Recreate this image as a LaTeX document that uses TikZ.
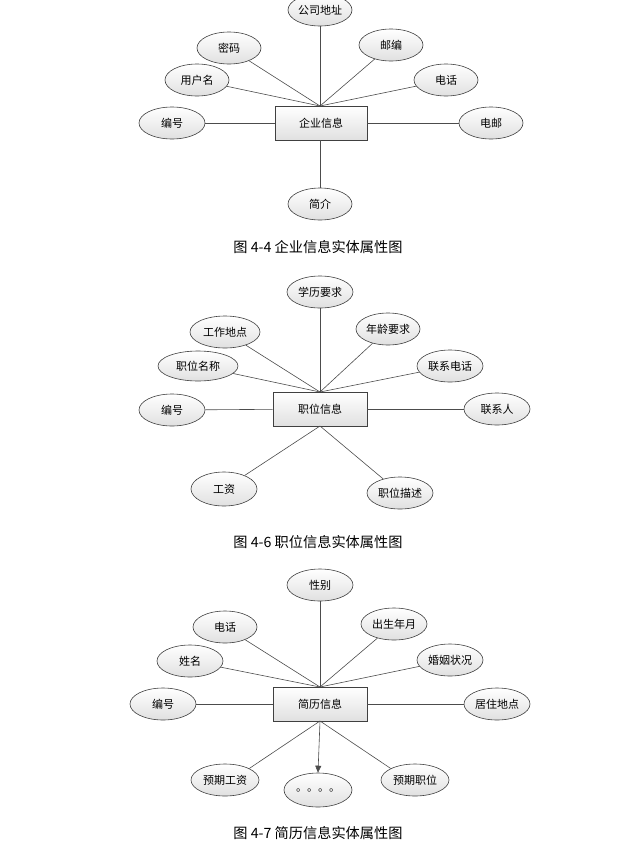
\documentclass[tikz,border=0pt]{standalone}
\usepackage{fontspec}
\setmainfont{Noto Sans CJK SC}
\usetikzlibrary{shapes.geometric,arrows.meta}
\begin{document}
\begin{tikzpicture}[x=1pt,y=-1pt,
  attr/.style={ellipse,draw=black!75,line width=0.6pt,top color=white,bottom color=black!12,minimum width=64pt,minimum height=32pt,inner sep=0pt,font=\fontsize{11}{12}\selectfont},
  ent/.style={rectangle,draw=black!75,line width=0.6pt,top color=white,bottom color=black!12,minimum width=92pt,minimum height=34pt,font=\fontsize{11}{12}\selectfont},
  captext/.style={font=\fontsize{14.2}{15}\selectfont},
  ln/.style={draw=black!70,line width=0.6pt}]
\useasboundingbox (0,0) rectangle (644,841);
% Diagram 1
\node[ent] (e1) at (321,123) {企业信息};
\node[attr] (a1) at (320,10) {公司地址};
\node[attr] (a2) at (229,48) {密码};
\node[attr] (a3) at (197,80) {用户名};
\node[attr,minimum width=66pt] (a4) at (172,123) {编号};
\node[attr] (a5) at (391,45) {邮编};
\node[attr] (a6) at (446,80) {电话};
\node[attr] (a7) at (491,123) {电邮};
\node[attr] (a8) at (320,204) {简介};
\coordinate (t1) at (320,106);
\foreach \a in {a1,a2,a3,a5,a6} \draw[ln] (t1) -- (\a);
\draw[ln] (e1) -- (a4); \draw[ln] (e1) -- (a7);
\draw[ln] (t1 |- e1.south) -- (a8);
\node[captext] (c1) at (318,247) {图 4-4 企业信息实体属性图};
% Diagram 2
\node[ent,minimum width=94pt] (e2) at (320,409) {职位信息};
\node[attr,minimum width=66pt] (b1) at (320,292) {学历要求};
\node[attr,minimum width=70pt] (b2) at (225,332) {工作地点};
\node[attr,minimum width=80pt,minimum height=30pt] (b3) at (198,366) {职位名称};
\node[attr,minimum width=66pt] (b4) at (172,410) {编号};
\node[attr] (b5) at (388,329) {年龄要求};
\node[attr,minimum width=66pt] (b6) at (450,366) {联系电话};
\node[attr,minimum width=66pt] (b7) at (497,409) {联系人};
\node[attr,minimum width=66pt,minimum height=34pt] (b8) at (224,489) {工资};
\node[attr,minimum width=66pt] (b9) at (400,493) {职位描述};
\coordinate (t2) at (320,392);
\coordinate (s2) at (320,426);
\foreach \a in {b1,b2,b3,b5,b6} \draw[ln] (t2) -- (\a);
\draw[ln] (e2) -- (b4); \draw[ln] (e2) -- (b7);
\draw[ln] (s2) -- (b8); \draw[ln] (s2) -- (b9);
\node[captext] (c2) at (318,542) {图 4-6 职位信息实体属性图};
% Diagram 3
\node[ent,minimum width=94pt] (e3) at (320,704) {简历信息};
\node[attr,minimum width=66pt] (d1) at (320,585) {性别};
\node[attr] (d2) at (225,627) {电话};
\node[attr,minimum width=66pt] (d3) at (190,661) {姓名};
\node[attr,minimum width=66pt] (d4) at (163,704) {编号};
\node[attr,minimum width=66pt] (d5) at (394,624) {出生年月};
\node[attr,minimum width=66pt] (d6) at (450,660) {婚姻状况};
\node[attr,minimum width=66pt] (d7) at (497,704) {居住地点};
\node[attr,minimum width=68pt] (d8) at (225,780) {预期工资};
\node[attr,minimum width=68pt,minimum height=34pt] (d9) at (318,790) {。。。。};
\node[attr,minimum width=68pt] (d10) at (415,780) {预期职位};
\coordinate (t3) at (320,687);
\coordinate (s3) at (320,721);
\foreach \a in {d1,d2,d3,d5,d6} \draw[ln] (t3) -- (\a);
\draw[ln] (e3) -- (d4); \draw[ln] (e3) -- (d7);
\draw[ln] (s3) -- (d8.north east); \draw[ln] (s3) -- (d10.north west);
\draw[ln,-{Triangle[length=7pt,width=6pt]}] (s3) -- (d9.north);
\node[captext] (c3) at (318,833) {图 4-7 简历信息实体属性图};
\end{tikzpicture}
\end{document}
